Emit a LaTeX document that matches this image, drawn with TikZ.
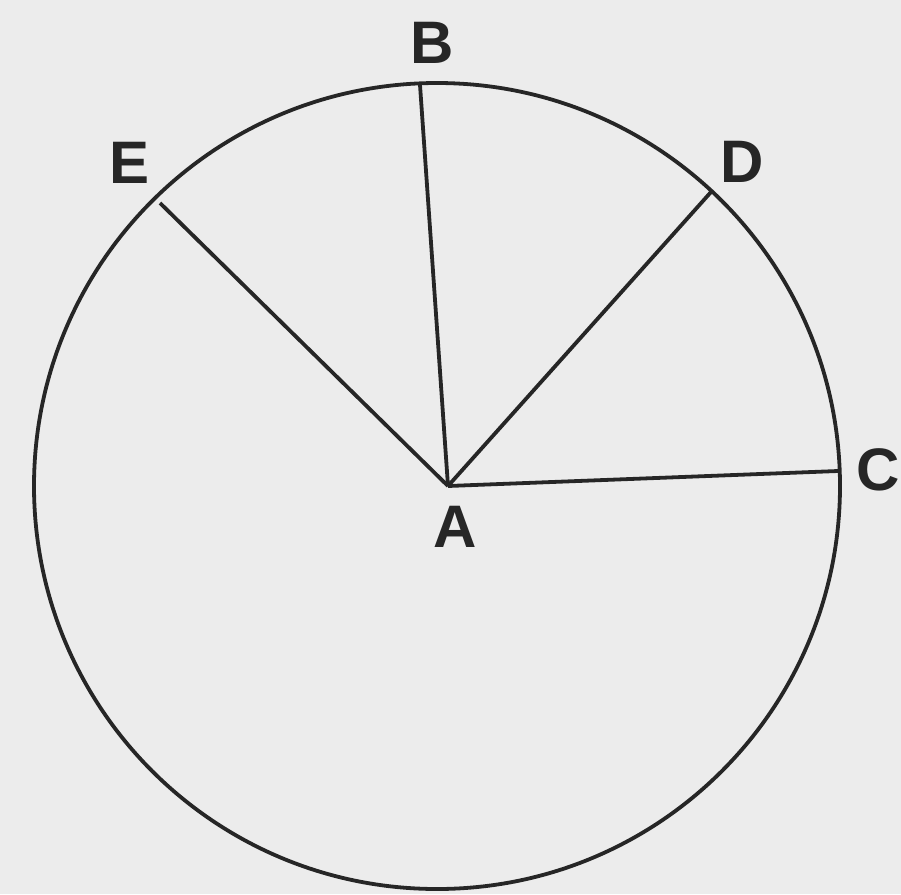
\documentclass[tikz,border=0pt]{standalone}
\usepackage{fontspec}
\setmainfont{Liberation Sans}
\begin{document}
\begin{tikzpicture}[x=1pt,y=-1pt,
  lbl/.style={font=\fontsize{60}{60}\selectfont\bfseries, text=black!85, inner sep=0pt},
  ln/.style={line width=3.8pt, draw=black!85}]
\fill[gray!15] (0,0) rectangle (901,894);
\useasboundingbox (0,0) rectangle (901,894);
\coordinate (A) at (448,486);
\draw[ln] (437,486) circle (403);
\coordinate (B) at (420,85);
\coordinate (C) at (838,471);
\coordinate (D) at (711,192);
\coordinate (E) at (160,203);
\draw[ln] (A) -- (B);
\draw[ln] (A) -- (C);
\draw[ln] (A) -- (D);
\draw[ln] (A) -- (E);
\node[lbl] (lB) at (432,43) {B};
\node[lbl] (lC) at (878,470) {C};
\node[lbl] (lD) at (742,162) {D};
\node[lbl] (lE) at (130,163) {E};
\node[lbl] (lA) at (455,527) {A};
\end{tikzpicture}
\end{document}
